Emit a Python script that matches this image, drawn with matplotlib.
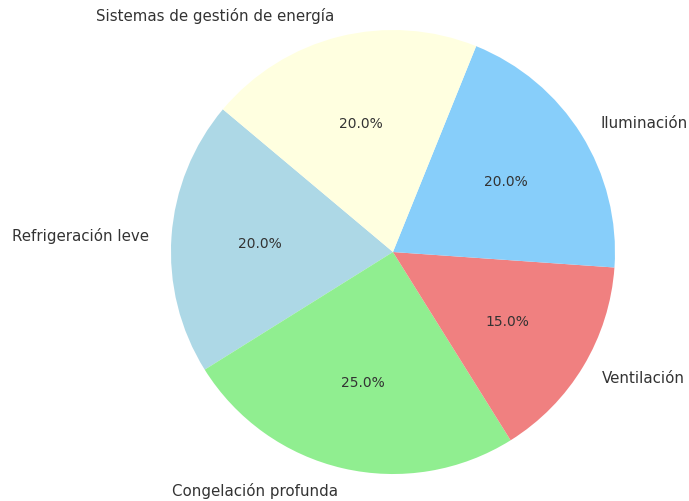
import matplotlib.pyplot as plt

# Energy use share by system
labels = ['Refrigeración leve', 'Congelación profunda', 'Ventilación',
          'Iluminación', 'Sistemas de gestión de energía']
shares = [20, 25, 15, 20, 20]
colors = ['lightblue', 'lightgreen', 'lightcoral', 'lightskyblue', 'lightyellow']

fig = plt.figure(figsize=(6.89, 5.02), dpi=100)
ax = fig.add_axes([0.1676, -0.0568, 555 / 689, 555 / 502])

wedges, texts, autotexts = ax.pie(shares, labels=labels, colors=colors,
                                  autopct='%1.1f%%', startangle=140,
                                  textprops={'color': '#333333'})
for t in texts:
    t.set_fontsize(10.8)
for t in autotexts:
    t.set_fontsize(10)
ax.set_xlim(-1.25, 1.25)
ax.set_ylim(-1.25, 1.25)
ax.set_aspect('equal')

fig.savefig('out.png', dpi=100)
